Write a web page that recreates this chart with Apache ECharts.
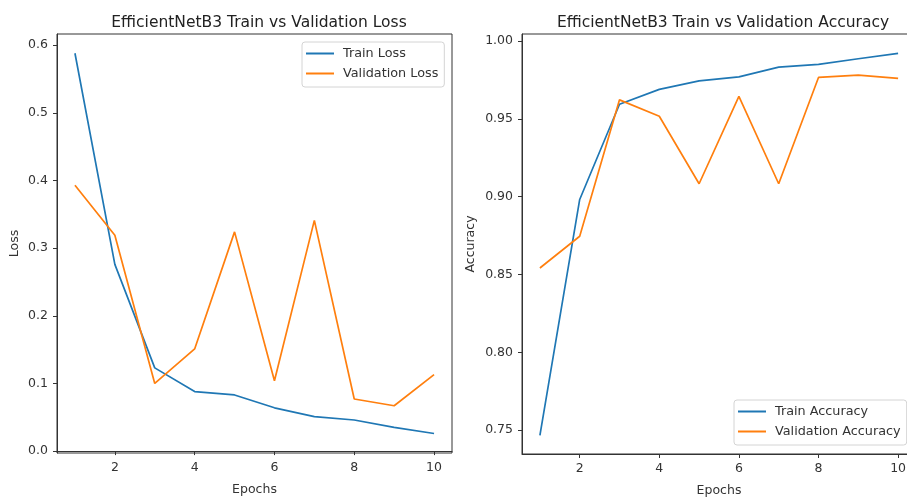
<!DOCTYPE html>
<html><head><meta charset="utf-8">
<script src="https://cdn.jsdelivr.net/npm/echarts@6/dist/echarts.min.js"></script>
<style>html,body{margin:0;padding:0;background:#fff}#c{width:907px;height:497px}</style>
</head><body><div id="c"></div>
<script>
const epochs = [1,2,3,4,5,6,7,8,9,10];
const trainLoss = [0.588,0.276,0.123,0.088,0.083,0.064,0.051,0.046,0.035,0.026];
const valLoss = [0.393,0.319,0.100,0.151,0.324,0.104,0.341,0.077,0.067,0.113];
const trainAcc = [0.7466,0.8982,0.9594,0.9689,0.9744,0.9770,0.9832,0.9850,0.9886,0.9920];
const valAcc = [0.8542,0.8746,0.9622,0.9517,0.9083,0.9644,0.9083,0.9766,0.9781,0.9760];
const xTicks = [2,4,6,8,10];
const lossTicks = [0,0.1,0.2,0.3,0.4,0.5,0.6];
const accTicks = [0.75,0.80,0.85,0.90,0.95,1.00];

const FONT = 'DejaVu Sans';
const pair = (xs, ys) => xs.map((x,i)=>[x, ys[i]]);
function xAx(gi){
  return {type:'value', gridIndex:gi, min:0.55, max:10.45, name:'Epochs', nameLocation:'middle', nameGap:30,
    nameTextStyle:{fontFamily:FONT,fontSize:12.5,color:'#333'},
    axisLine:{show:true,lineStyle:{color:'#333',width:1}},
    axisTick:{show:true,length:4,inside:false,customValues:xTicks,lineStyle:{color:'#333'}},
    axisLabel:{customValues:xTicks,fontFamily:FONT,fontSize:12.5,color:'#333',margin:8},
    splitLine:{show:false}};
}
function yAx(gi,min,max,ticks,dec,name,gap){
  return {type:'value', gridIndex:gi, min:min, max:max, name:name, nameLocation:'middle', nameGap:gap, nameRotate:90,
    nameTextStyle:{fontFamily:FONT,fontSize:12.5,color:'#333'},
    axisLine:{show:true,lineStyle:{color:'#333',width:1}},
    axisTick:{show:true,length:4,inside:false,customValues:ticks,lineStyle:{color:'#333'}},
    axisLabel:{customValues:ticks,fontFamily:FONT,fontSize:12.5,color:'#333',margin:9,formatter:v=>v.toFixed(dec)},
    splitLine:{show:false}};
}
function ser(name,gi,xs,ys,color){
  return {type:'line',name:name,xAxisIndex:gi,yAxisIndex:gi,data:pair(xs,ys),symbol:'none',
    lineStyle:{color:color,width:1.7},itemStyle:{color:color},animation:false};
}
const legendCommon = {orient:'vertical', itemWidth:28, itemHeight:14, itemGap:7, padding:[5,6,7,4],
  borderColor:'#d4d4d4', borderWidth:1, borderRadius:3, backgroundColor:'rgba(255,255,255,0.8)',
  textStyle:{fontFamily:FONT,fontSize:12.8,color:'#333',padding:[0,0,0,4]}, icon:'path://M0,0 L28,0 L28,2 L0,2 Z'};
const chart = echarts.init(document.getElementById('c'), null, {renderer:'canvas'});
chart.setOption({
  animation:false,
  backgroundColor:'#fff',
  title:[
    {text:'EfficientNetB3 Train vs Validation Loss', left:254, top:10, textAlign:'center',
     textStyle:{fontFamily:FONT,fontSize:15.5,fontWeight:'normal',color:'#222'}},
    {text:'EfficientNetB3 Train vs Validation Accuracy', left:718, top:10, textAlign:'center',
     textStyle:{fontFamily:FONT,fontSize:15.5,fontWeight:'normal',color:'#222'}}
  ],
  grid:[
    {left:57, top:34, width:395, height:419, show:true, borderColor:'#333', borderWidth:1, containLabel:false, outerBoundsMode:'none'},
    {left:522, top:34, width:394, height:420, show:true, borderColor:'#333', borderWidth:1, containLabel:false, outerBoundsMode:'none'}
  ],
  xAxis:[xAx(0), xAx(1)],
  yAxis:[yAx(0,-0.0028,0.6165,lossTicks,1,'Loss',35.5), yAx(1,0.7347,1.0045,accTicks,2,'Accuracy',45)],
  legend:[
    Object.assign({}, legendCommon, {left:302, top:42, data:['Train Loss','Validation Loss']}),
    Object.assign({}, legendCommon, {left:734, top:400, data:['Train Accuracy','Validation Accuracy']})
  ],
  series:[
    ser('Train Loss',0,epochs,trainLoss,'#1f77b4'),
    ser('Validation Loss',0,epochs,valLoss,'#ff7f0e'),
    ser('Train Accuracy',1,epochs,trainAcc,'#1f77b4'),
    ser('Validation Accuracy',1,epochs,valAcc,'#ff7f0e')
  ]
});
</script></body></html>
